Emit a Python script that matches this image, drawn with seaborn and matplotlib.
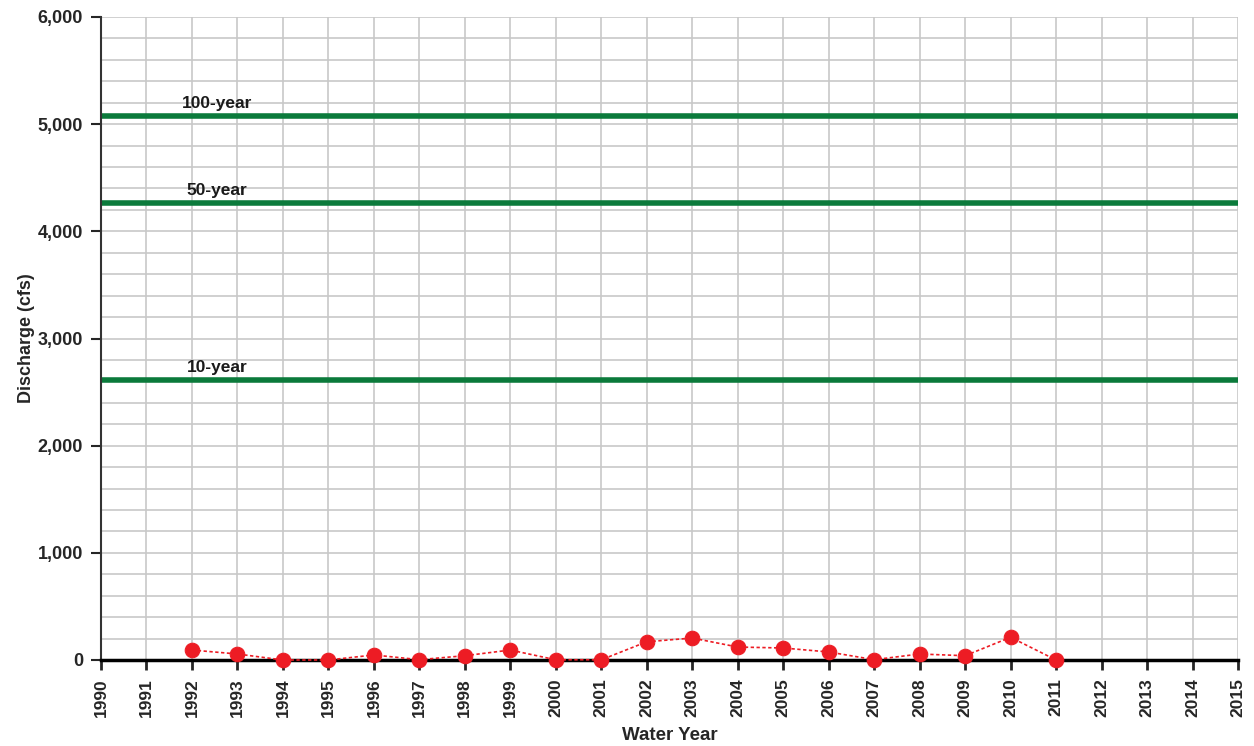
import matplotlib
matplotlib.use("Agg")
import matplotlib.pyplot as plt
import numpy as np
import pandas as pd
import seaborn as sns
from matplotlib.ticker import MultipleLocator, FuncFormatter

# annual peak discharge (cfs)
years = [1992, 1993, 1994, 1995, 1996, 1997, 1998, 1999, 2000, 2001,
         2002, 2003, 2004, 2005, 2006, 2007, 2008, 2009, 2010, 2011]
discharge = [93, 56, 0, 0, 47, 3, 40, 93, 2, 2,
             170, 205, 121, 112, 75, 3, 56, 40, 212, 0]

# flood frequency levels
flood_labels = ["100-year", "50-year", "10-year"]
flood_values = [5075, 4263, 2612]

x_ticks = list(range(1990, 2016))

sns.set_style("white")
plt.rcParams["font.family"] = ["Liberation Sans", "DejaVu Sans"]

df = pd.DataFrame({"Water Year": years, "Discharge": discharge})

fig = plt.figure(figsize=(12.54, 7.46), dpi=100)
ax = fig.add_axes([101 / 1254, 1 - 660 / 746, (1238 - 101) / 1254, (660 - 17) / 746])

ax.set_xlim(1990, 2015)
ax.set_ylim(0, 6000)
ax.yaxis.set_major_locator(MultipleLocator(1000))
ax.yaxis.set_minor_locator(MultipleLocator(200))
ax.set_xticks(x_ticks)
ax.grid(which="both", axis="y", color="#c8c8c8", linewidth=1.2, zorder=0)
ax.grid(which="major", axis="x", color="#c8c8c8", linewidth=1.2, zorder=0)
ax.set_axisbelow(True)

for lbl, val in zip(flood_labels, flood_values):
    ax.axhline(val, color="#0b7a3b", linewidth=4, zorder=2)
    ax.text(1992.55, val + 45, lbl, ha="center", va="bottom",
            fontsize=12.5, fontweight="bold", color="#1a1a1a")

sns.lineplot(data=df, x="Water Year", y="Discharge", ax=ax, color="#ed1c24",
             linestyle=(0, (2, 1.5)), linewidth=1.2, marker="o", markersize=10.5,
             markeredgecolor="#ed1c24", zorder=3, clip_on=False)

ax.yaxis.set_major_formatter(FuncFormatter(lambda v, p: f"{int(v):,}"))
ax.tick_params(axis="x", rotation=90, labelsize=12.5, length=7, width=2,
               direction="out", bottom=True, pad=6)
ax.tick_params(axis="y", which="major", labelsize=13, length=7, width=1.5,
               direction="out", left=True, pad=6)
ax.tick_params(axis="y", which="minor", left=False)
for lab in ax.get_xticklabels() + ax.get_yticklabels():
    lab.set_fontweight("bold")

for s in ["top", "right"]:
    ax.spines[s].set_visible(False)
ax.spines["left"].set_color("#333333")
ax.spines["left"].set_linewidth(1.5)
ax.spines["bottom"].set_color("black")
ax.spines["bottom"].set_linewidth(2.5)

ax.set_xlabel("Water Year", fontsize=13.5, fontweight="bold", labelpad=7)
ax.set_ylabel("Discharge (cfs)", fontsize=13, fontweight="bold", labelpad=2)

fig.savefig("out.png", dpi=100)
